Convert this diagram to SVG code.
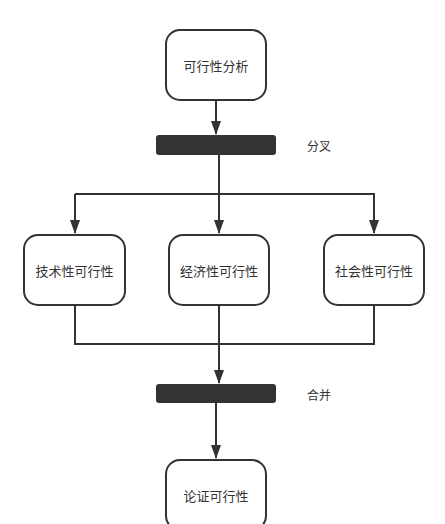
<svg xmlns="http://www.w3.org/2000/svg" width="445" height="524" viewBox="0 0 445 524">
<style>
.node{fill:#fff;stroke:#333;stroke-width:2}
.bar{fill:#333;stroke:none}
.lbl{font-family:"Noto Sans CJK SC","Noto Sans",sans-serif;font-size:13px;fill:#333;text-anchor:middle;dominant-baseline:central}
.side{font-family:"Noto Sans CJK SC","Noto Sans",sans-serif;font-size:12px;fill:#333;dominant-baseline:central}
.ln{fill:none;stroke:#333;stroke-width:2}
</style>
<defs>
<marker id="ah" markerWidth="14" markerHeight="10" refX="13" refY="5" orient="auto" markerUnits="userSpaceOnUse" viewBox="0 0 14 10">
<path d="M0,0 L14,5 L0,10 Z" fill="#333"/>
</marker>
</defs>
<rect width="445" height="524" fill="#fff"/>
<g id="connectors">
<path class="ln" d="M216,100 V134" marker-end="url(#ah)"/>
<path class="ln" d="M219,155 V233" stroke-width="2.5" marker-end="url(#ah)"/>
<path class="ln" d="M75,194 H374 V233" marker-end="url(#ah)"/>
<path class="ln" d="M75,194 V233" marker-end="url(#ah)"/>
<path class="ln" d="M75,305 V344 H374 V305"/>
<path class="ln" d="M219,305 V383" stroke-width="2.5" marker-end="url(#ah)"/>
<path class="ln" d="M216,403 V458" marker-end="url(#ah)"/>
</g>
<g id="start">
<rect class="node" x="166" y="30" width="100" height="70" rx="14"/>
<text class="lbl" x="216" y="65">可行性分析</text>
</g>
<g id="fork">
<rect class="bar" x="156" y="135" width="120" height="20" rx="3"/>
<text class="side" x="307" y="145">分叉</text>
</g>
<g id="tech">
<rect class="node" x="24" y="235" width="101" height="70" rx="14"/>
<text class="lbl" x="74.5" y="270">技术性可行性</text>
</g>
<g id="econ">
<rect class="node" x="169" y="235" width="100" height="70" rx="14"/>
<text class="lbl" x="219" y="270">经济性可行性</text>
</g>
<g id="social">
<rect class="node" x="324" y="235" width="100" height="70" rx="14"/>
<text class="lbl" x="374" y="270">社会性可行性</text>
</g>
<g id="join">
<rect class="bar" x="156" y="384" width="120" height="19" rx="3"/>
<text class="side" x="307" y="394">合并</text>
</g>
<g id="end">
<rect class="node" x="166" y="460" width="100" height="70" rx="14"/>
<text class="lbl" x="216" y="495">论证可行性</text>
</g>
</svg>
